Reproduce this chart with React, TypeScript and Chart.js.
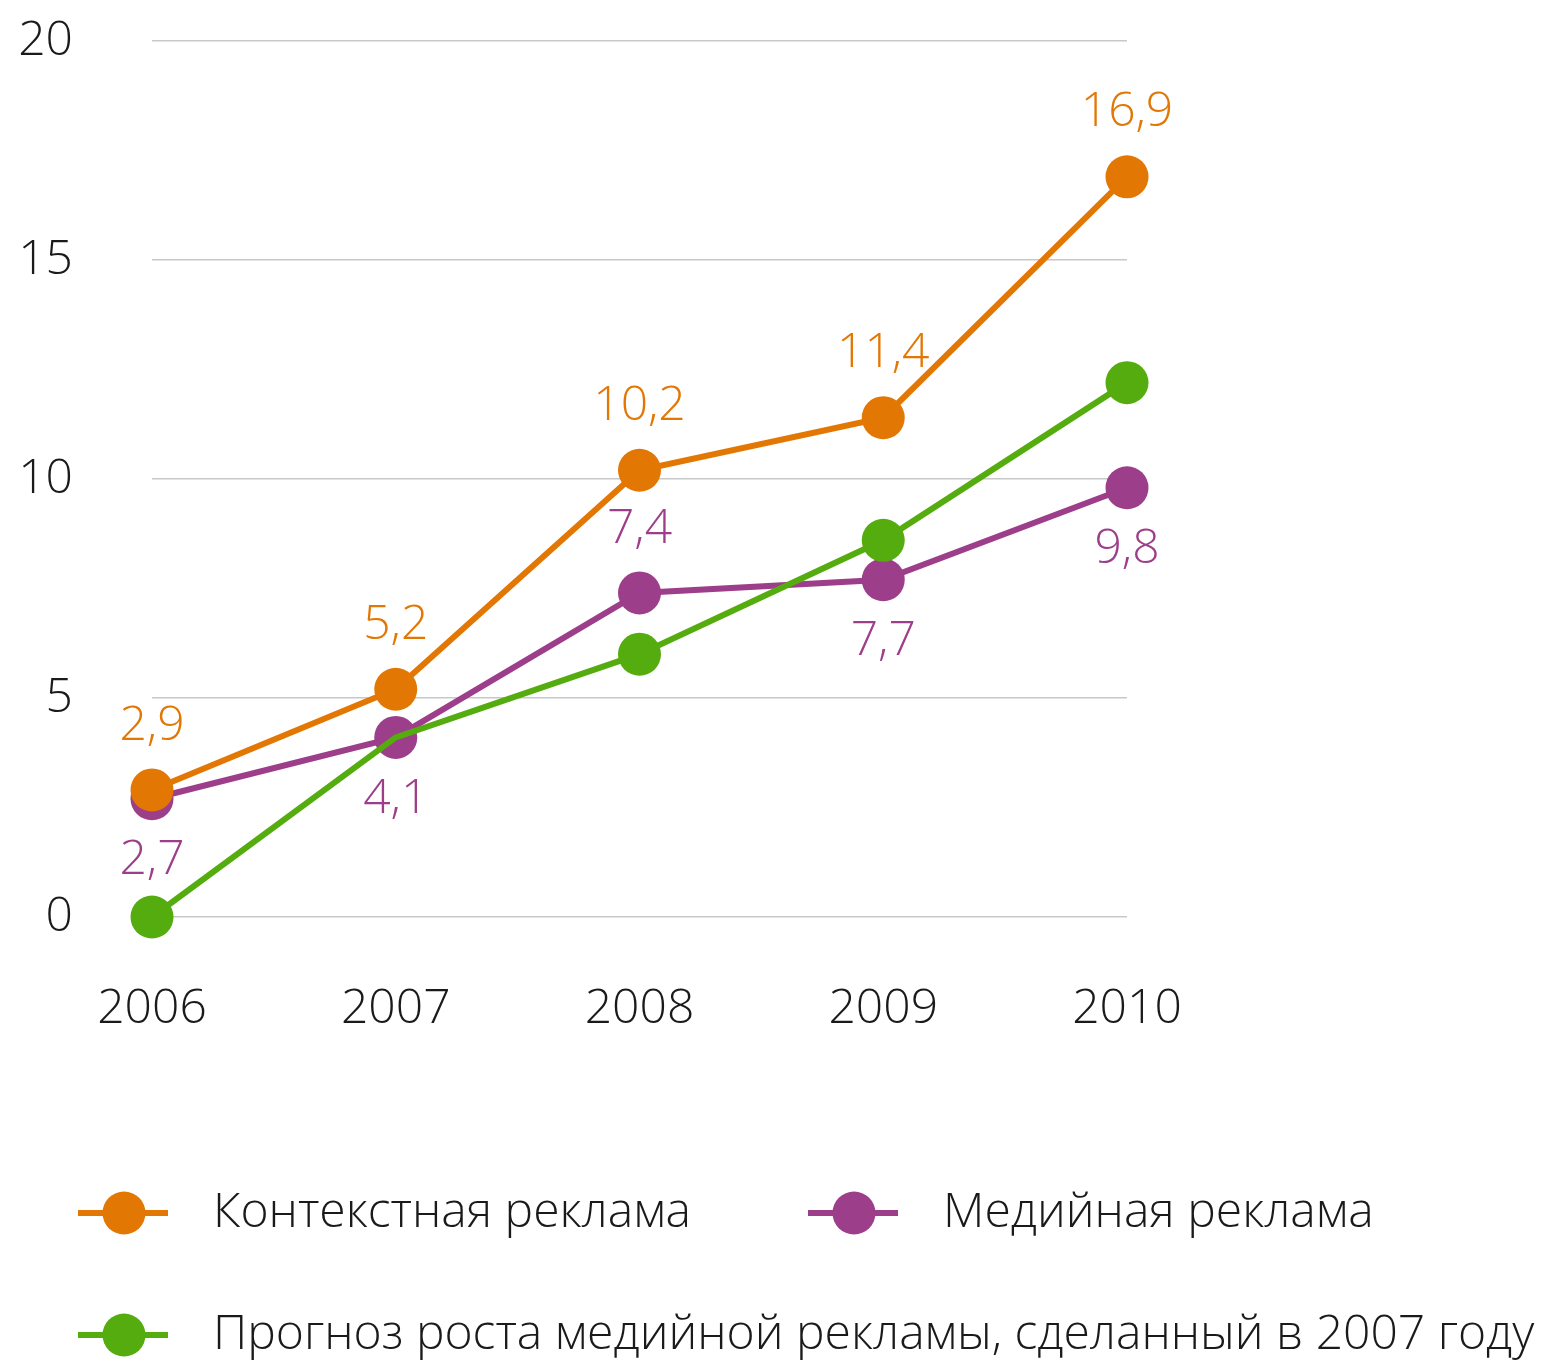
import React, { useEffect, useRef } from "react";
import { Chart, registerables } from "chart.js";

Chart.register(...registerables);

const years = ["2006", "2007", "2008", "2009", "2010"];
const contextAds = [2.9, 5.2, 10.2, 11.4, 16.9];
const mediaAds = [2.7, 4.1, 7.4, 7.7, 9.8];
const mediaForecast = [0, 4.1, 6.0, 8.6, 12.2];
const forecastHasMarker = [true, false, true, true, true];
const contextLabelSide = ["above", "above", "above", "above", "above"];
const mediaLabelSide = ["below", "below", "above", "below", "below"];
const seriesNames = [
  "Контекстная реклама",
  "Медийная реклама",
  "Прогноз роста медийной рекламы, сделанный в 2007 году",
];

const ORANGE = "#E37704";
const PURPLE = "#9D3E8A";
const GREEN = "#54AC0E";
const FONT = "'Open Sans', sans-serif";
const TEXT = "#1a1a1a";

const fmt = (v: number) => String(v).replace(".", ",");

const valueLabelPlugin = {
  id: "valueLabels",
  afterDatasetsDraw(chart: any) {
    const ctx = chart.ctx;
    chart.data.datasets.forEach((ds: any, di: number) => {
      if (!ds.labelSides) return;
      const meta = chart.getDatasetMeta(di);
      ctx.save();
      ctx.font = `300 48px ${FONT}`;
      ctx.fillStyle = ds.borderColor;
      ctx.textAlign = "center";
      ctx.textBaseline = "middle";
      meta.data.forEach((pt: any, i: number) => {
        const dy = ds.labelSides[i] === "above" ? -64 : 62;
        ctx.fillText(fmt(ds.data[i]), pt.x, pt.y + dy);
      });
      ctx.restore();
    });
  },
};

const customLegendPlugin = {
  id: "customLegend",
  afterDraw(chart: any, _args: any, opts: any) {
    const ctx = chart.ctx;
    (opts.items || []).forEach((it: any) => {
      const ds = chart.data.datasets[it.dataset];
      ctx.save();
      ctx.strokeStyle = ds.borderColor;
      ctx.lineWidth = 6;
      ctx.beginPath();
      ctx.moveTo(it.x, it.y);
      ctx.lineTo(it.x + 90, it.y);
      ctx.stroke();
      ctx.fillStyle = ds.borderColor;
      ctx.beginPath();
      ctx.arc(it.x + 46, it.y, 21.5, 0, Math.PI * 2);
      ctx.fill();
      ctx.font = `300 48px ${FONT}`;
      ctx.fillStyle = TEXT;
      ctx.textAlign = "left";
      ctx.textBaseline = "middle";
      ctx.fillText(ds.label, it.x + 135, it.y);
      ctx.restore();
    });
  },
};

export default function App() {
  const ref = useRef<HTMLCanvasElement | null>(null);

  useEffect(() => {
    if (!ref.current) return;
    const chart = new Chart(ref.current, {
      type: "line",
      data: {
        labels: years,
        datasets: [
          {
            label: seriesNames[2],
            data: mediaForecast,
            borderColor: GREEN,
            backgroundColor: GREEN,
            borderWidth: 6,
            pointRadius: forecastHasMarker.map((m) => (m ? 21.5 : 0)),
            pointHoverRadius: forecastHasMarker.map((m) => (m ? 21.5 : 0)),
            pointBorderWidth: 0,
            order: 0,
            clip: false,
          } as any,
          {
            label: seriesNames[0],
            data: contextAds,
            borderColor: ORANGE,
            backgroundColor: ORANGE,
            borderWidth: 6,
            pointRadius: 21.5,
            pointBorderWidth: 0,
            order: 1,
            clip: false,
            labelSides: contextLabelSide,
          } as any,
          {
            label: seriesNames[1],
            data: mediaAds,
            borderColor: PURPLE,
            backgroundColor: PURPLE,
            borderWidth: 6,
            pointRadius: 21.5,
            pointBorderWidth: 0,
            order: 2,
            clip: false,
            labelSides: mediaLabelSide,
          } as any,
        ],
      },
      options: {
        animation: false,
        responsive: false,
        maintainAspectRatio: false,
        layout: { padding: { left: 0, right: 423, top: 41, bottom: 317 } },
        plugins: {
          legend: { display: false },
          tooltip: { enabled: false },
          customLegend: {
            items: [
              { dataset: 1, x: 78, y: 1213 },
              { dataset: 2, x: 808, y: 1213 },
              { dataset: 0, x: 78, y: 1335 },
            ],
          },
        } as any,
        scales: {
          x: {
            offset: false,
            grid: { display: false, drawTicks: false },
            border: { display: false },
            ticks: {
              color: TEXT,
              font: { family: FONT, size: 48, weight: "300" as any },
              padding: 64,
              maxRotation: 0,
            },
            afterFit: (s: any) => {
              s.height = 130;
              s.paddingLeft = 0;
              s.paddingRight = 0;
            },
          },
          y: {
            min: 0,
            max: 20,
            grid: { color: "#c8c8c8", lineWidth: 1.5, drawTicks: false },
            border: { display: false },
            ticks: {
              stepSize: 5,
              color: TEXT,
              font: { family: FONT, size: 48, weight: "300" as any },
              padding: 79,
            },
            afterFit: (s: any) => {
              s.width = 152;
              s.paddingTop = 0;
              s.paddingBottom = 0;
            },
          },
        },
      },
      plugins: [valueLabelPlugin, customLegendPlugin],
    });
    return () => chart.destroy();
  }, []);

  return (
    <div style={{ position: "absolute", left: 0, top: 0, width: 1550, height: 1364, background: "#fff" }}>
      <canvas ref={ref} width={1550} height={1364} style={{ width: 1550, height: 1364 }} />
    </div>
  );
}
